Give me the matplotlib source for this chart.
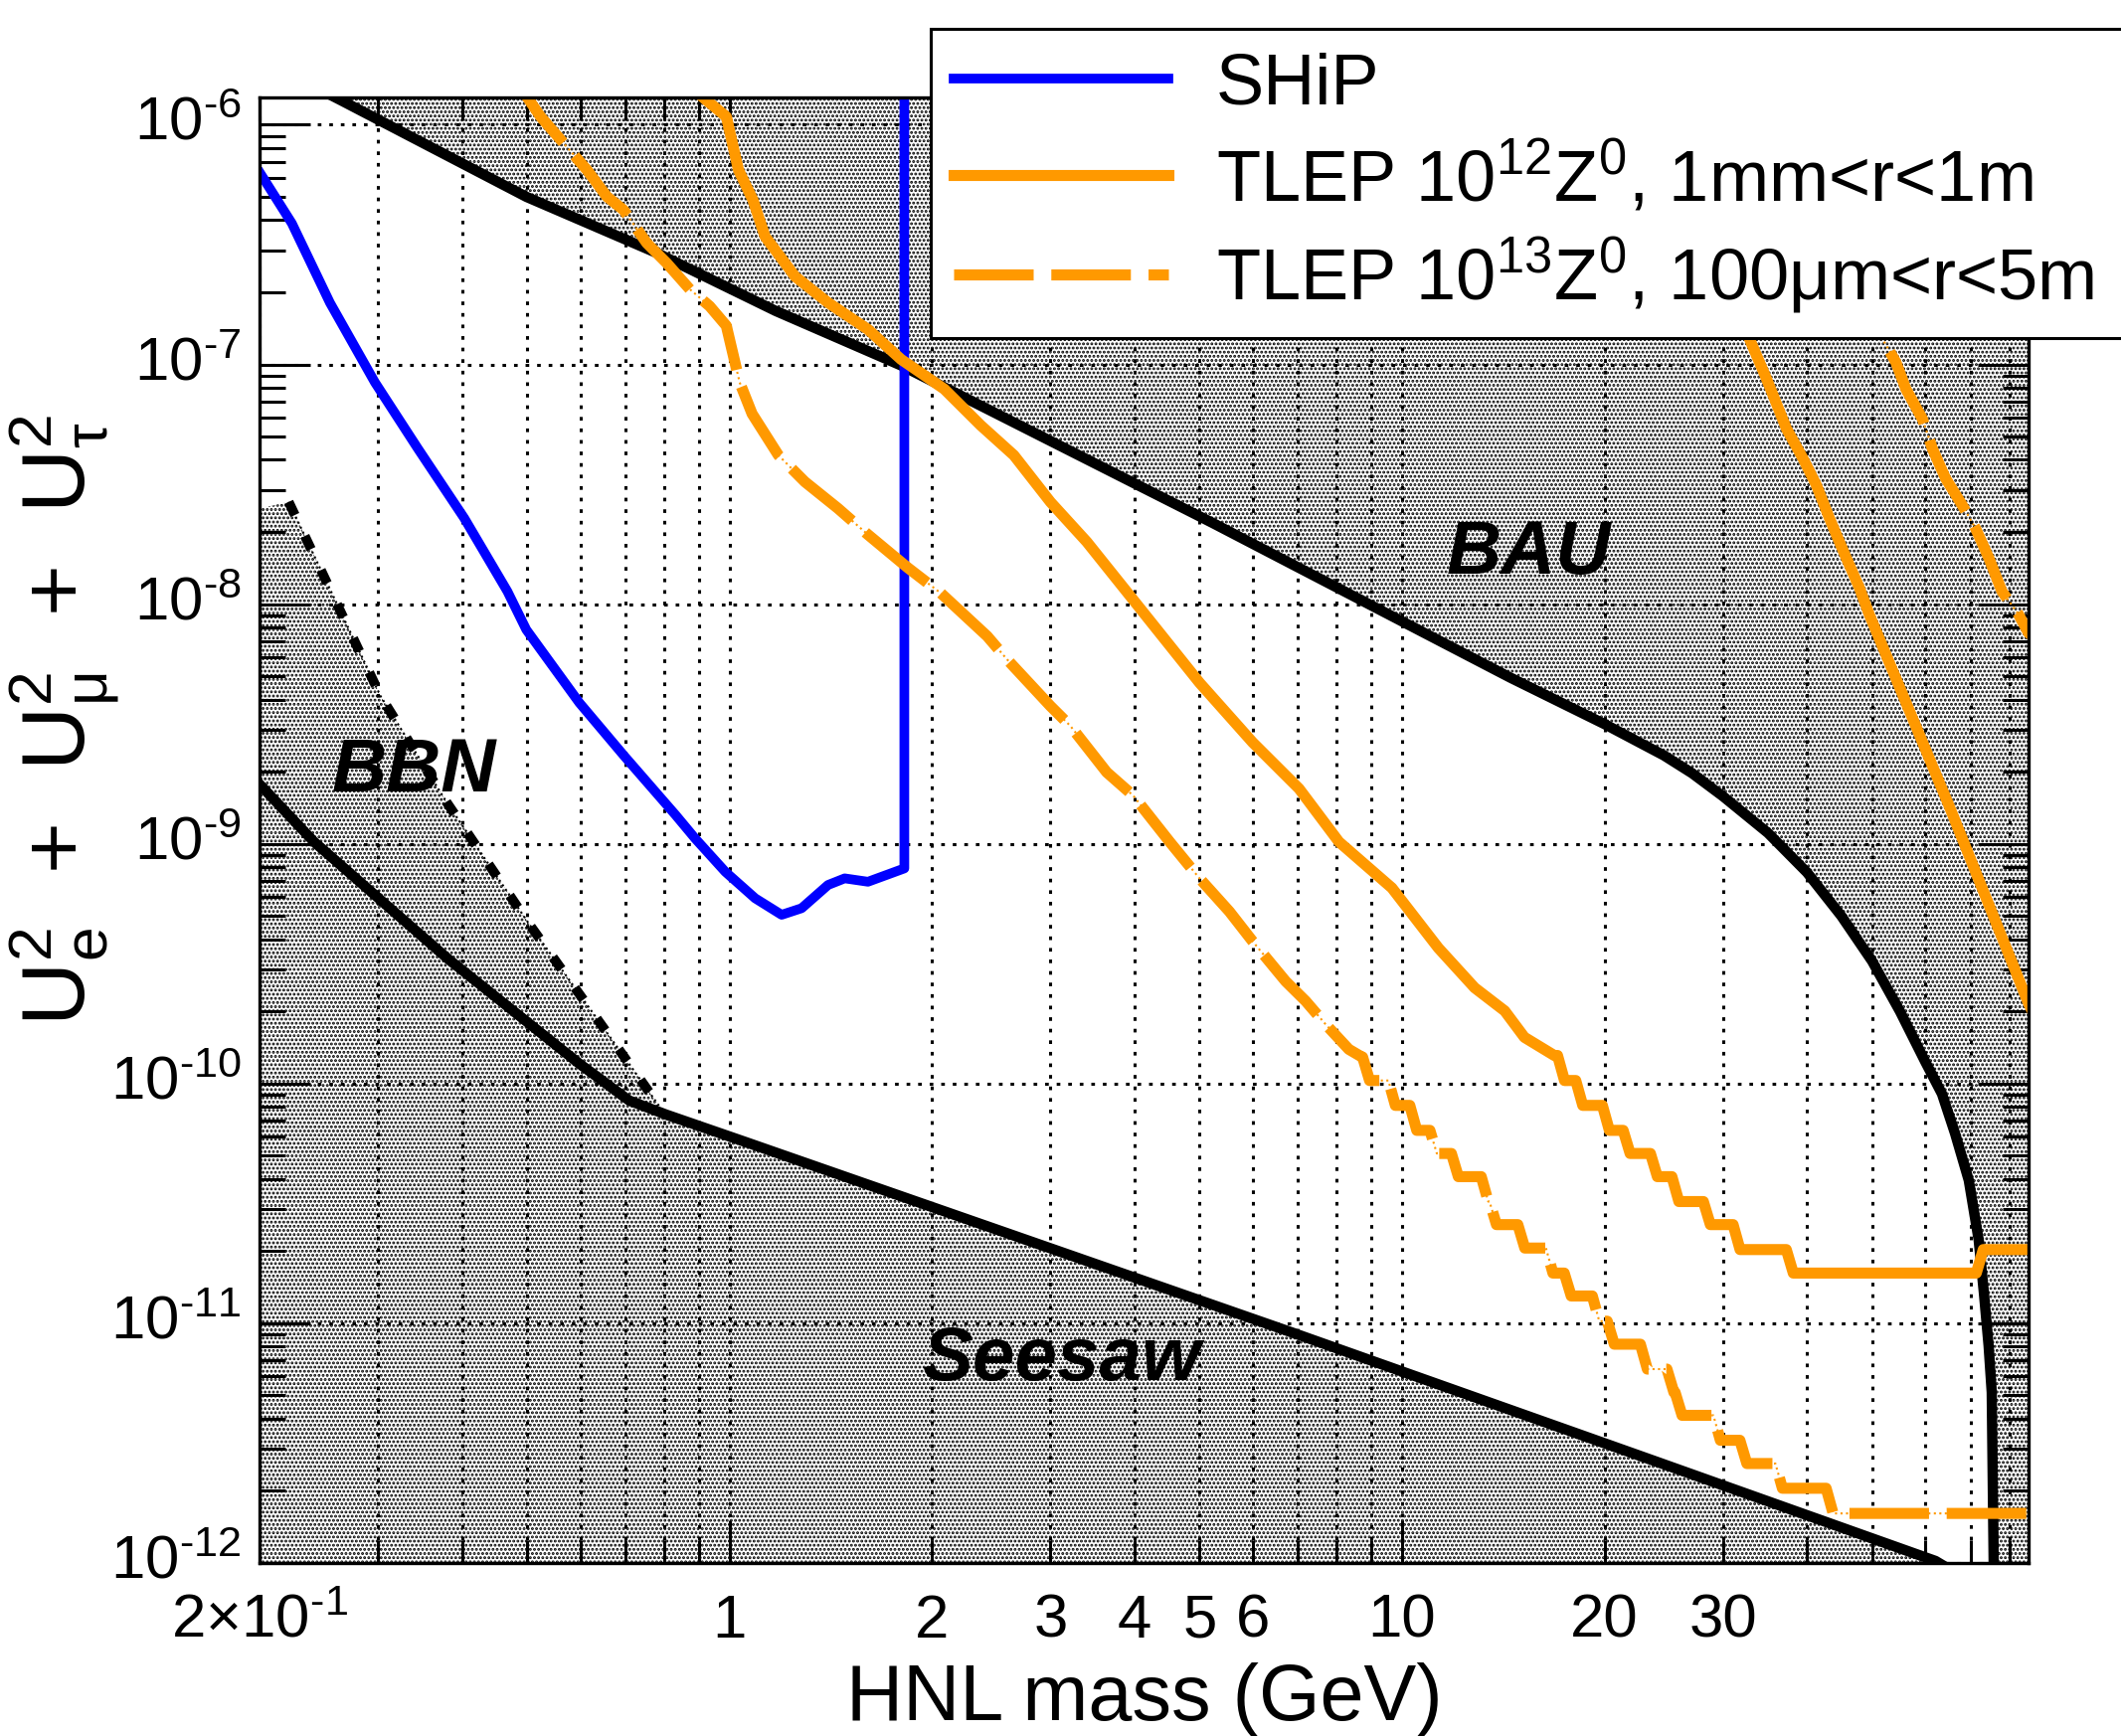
import numpy as np
import matplotlib
matplotlib.use("Agg")
import matplotlib.pyplot as plt
from matplotlib.ticker import FixedLocator, FixedFormatter, LogLocator, NullFormatter

plt.rcParams['font.family'] = ['Liberation Sans', 'DejaVu Sans']
plt.rcParams['mathtext.fontset'] = 'custom'
plt.rcParams['mathtext.rm'] = 'Liberation Sans'
plt.rcParams['mathtext.it'] = 'Liberation Sans:italic'
plt.rcParams['mathtext.bf'] = 'Liberation Sans:bold'
plt.rcParams['axes.unicode_minus'] = False
plt.rcParams['hatch.linewidth'] = 1.4

# ---- values: HNL mass (GeV) vs U_e^2+U_mu^2+U_tau^2 ----
# BAU upper bound
bau_m = [0.25, 0.265, 0.499, 0.779, 1.172, 1.8, 5.23, 14.5, 20, 24.5, 27, 30, 35, 40,
         45, 50, 55, 60, 63.5, 66.4, 69.6, 72.0, 73.3, 74.5, 75.3, 75.8, 76.0]
bau_u = [1.37e-6, 1.26e-6, 5.0e-7, 2.92e-7, 1.67e-7, 9.9e-8, 2.18e-8, 4.93e-9, 3.16e-9,
         2.34e-9, 1.97e-9, 1.58e-9, 1.11e-9, 7.6e-10, 5.0e-10, 3.24e-10, 2.0e-10,
         1.23e-10, 9.06e-11, 6.2e-11, 3.95e-11, 2.23e-11, 1.34e-11, 8.05e-12, 5.15e-12,
         1.0e-12, 5e-13]

# seesaw lower bound
seesaw_m = [0.199, 0.241, 0.380, 0.598, 0.709, 0.804, 1.055, 6.87, 23.95, 62.1, 64.0]
seesaw_u = [1.80e-9, 1.02e-9, 3.34e-10, 1.21e-10, 8.5e-11, 7.43e-11, 5.71e-11,
            9.14e-12, 2.64e-12, 1.02e-12, 9.7e-13]

# BBN bound (first point only closes the shaded area at the axis)
bbn_m = [0.199, 0.221, 0.3026, 0.3796, 0.5042, 0.6329, 0.794]
bbn_u = [2.5e-8, 2.67e-8, 4.14e-9, 1.49e-9, 4.6e-10, 1.89e-10, 7.73e-11]

# SHiP sensitivity
ship_m = [0.2006, 0.2234, 0.2545, 0.2969, 0.3439, 0.4033, 0.4674, 0.4985, 0.5978,
          0.6968, 0.8311, 0.8896, 0.9854, 1.0914, 1.195, 1.2797, 1.401, 1.483, 1.606,
          1.819, 1.819]
ship_u = [6.26e-7, 3.88e-7, 1.81e-7, 8.42e-8, 4.46e-8, 2.28e-8, 1.13e-8, 7.83e-9,
          3.88e-9, 2.33e-9, 1.32e-9, 1.05e-9, 7.65e-10, 5.93e-10, 5.06e-10, 5.39e-10,
          6.74e-10, 7.18e-10, 6.95e-10, 7.9e-10, 2e-6]

# TLEP 10^12 Z0, lower branch (smooth part) + staircase
tlep12_m = [0.88, 0.913, 0.989, 1.031, 1.083, 1.129, 1.251, 1.401, 1.606, 1.799, 2.085,
            2.363, 2.647, 2.999, 3.397, 3.892, 4.998, 5.995, 7.026, 8.054, 9.656,
            11.32, 12.82, 14.21, 15.2, 16.84]
tlep12_u = [1.42e-6, 1.30e-6, 1.08e-6, 6.47e-7, 4.86e-7, 3.42e-7, 2.33e-7, 1.81e-7,
            1.40e-7, 1.05e-7, 7.9e-8, 5.57e-8, 4.18e-8, 2.67e-8, 1.82e-8, 1.13e-8,
            4.7e-9, 2.65e-9, 1.70e-9, 1.02e-9, 6.55e-10, 3.68e-10, 2.51e-10, 2.01e-10,
            1.56e-10, 1.31e-10]
tlep12_edges = [17.23, 18.34, 20.09, 21.57, 23.68, 25.49, 28.39, 31.43, 37.71, 72.27]
tlep12_levels = [1.31e-10, 1.03e-10, 8.11e-11, 6.38e-11, 5.11e-11, 4.09e-11, 3.22e-11,
                 2.58e-11, 2.03e-11, 1.62e-11, 2.03e-11]
# upper branch (right side)
tlep12r_m = [23.0, 32.73, 34.83, 37.29, 39.46, 41.3, 43.2, 45.75, 47.86, 49.5, 65.0, 85.4, 90.0]
tlep12r_u = [1.3e-6, 1.31e-7, 8.7e-8, 5.39e-8, 4.05e-8, 3.14e-8, 2.28e-8, 1.56e-8,
             1.17e-8, 9.06e-9, 1.45e-9, 2.16e-10, 1.6e-10]

# TLEP 10^13 Z0, lower branch + staircase
tlep13_m = [0.48, 0.5003, 0.5236, 0.6138, 0.6572, 0.6956, 0.7531, 0.8060, 0.8726,
            0.9341, 0.9888, 1.035, 1.080, 1.182, 1.294, 1.449, 1.606, 1.840, 2.062,
            2.416, 2.586, 2.999, 3.210, 3.637, 3.983, 4.512, 4.998, 5.536, 5.995,
            6.713, 7.187, 7.692, 8.332, 8.718]
tlep13_u = [1.55e-6, 1.30e-6, 1.08e-6, 6.47e-7, 5.01e-7, 4.41e-7, 3.21e-7, 2.65e-7,
            2.06e-7, 1.75e-7, 1.45e-7, 8.42e-8, 6.23e-8, 4.18e-8, 3.24e-8, 2.51e-8,
            1.95e-8, 1.42e-8, 1.11e-8, 7.35e-9, 5.88e-9, 3.76e-9, 3.11e-9, 1.99e-9,
            1.59e-9, 1.02e-9, 7.18e-10, 5.22e-10, 3.92e-10, 2.67e-10, 2.21e-10,
            1.77e-10, 1.39e-10, 1.29e-10]
tlep13_edges = [8.84, 9.656, 10.39, 11.13, 11.98, 13.27, 13.65, 15.04, 16.56, 17.63,
                19.41, 20.43, 22.88, 25.06, 25.77, 29.38, 32.17, 36.33, 43.22]
tlep13_levels = [1.29e-10, 1.03e-10, 8.11e-11, 6.38e-11, 5.11e-11, 4.09e-11, 3.22e-11,
                 2.58e-11, 2.06e-11, 1.62e-11, 1.30e-11, 1.02e-11, 8.18e-12, 6.44e-12,
                 5.15e-12, 4.13e-12, 3.25e-12, 2.60e-12, 2.05e-12, 1.61e-12]
tlep13r_m = [32.6, 51.54, 54.25, 56.12, 59.38, 61.44, 64.31, 68.05, 71.24, 74.53,
             77.98, 82.53, 85.4, 90.0]
tlep13r_u = [1.3e-6, 1.31e-7, 1.02e-7, 7.9e-8, 5.93e-8, 4.46e-8, 3.34e-8, 2.59e-8,
             2.07e-8, 1.56e-8, 1.13e-8, 9.06e-9, 7.58e-9, 6.7e-9]

# region labels (position in data coords)
regions = ["BAU", "BBN", "Seesaw"]
region_m = [15.4, 0.339, 3.11]
region_u = [1.61e-8, 1.99e-9, 7.0e-12]

xtick_vals = [0.2, 0.3, 0.4, 0.5, 0.6, 0.7, 0.8, 0.9, 2, 3, 4, 5, 6, 7, 8, 9,
              20, 30, 40, 50, 60, 70, 80]
xtick_text = [r'$\mathdefault{2\text{×}10^{\text{-}1}}$', '', '', '', '', '', '', '',
              '2', '3', '4', '5', '6', '', '', '', '20', '30', '', '', '', '', '']
ytick_vals = [1e-12, 1e-11, 1e-10, 1e-9, 1e-8, 1e-7, 1e-6]
ytick_text = [r'$\mathdefault{10^{\text{-}%d}}$' % k for k in (12, 11, 10, 9, 8, 7, 6)]

ORANGE = '#ff9900'


def stairs(m_smooth, u_smooth, edges, levels, m_end):
    # staircase tail: slanted drop at each bin edge
    m = list(m_smooth)
    u = list(u_smooth)
    for e, lo, hi in zip(edges, levels[:-1], levels[1:]):
        m += [e / 1.012, e * 1.012]
        u += [lo, hi]
    m.append(m_end)
    u.append(levels[-1])
    return m, u


t12_m, t12_u = stairs(tlep12_m, tlep12_u, tlep12_edges, tlep12_levels, 90)
t13_m, t13_u = stairs(tlep13_m, tlep13_u, tlep13_edges, tlep13_levels, 90)

fig = plt.figure(figsize=(21.33, 17.46), dpi=100)
ax = fig.add_axes([261 / 2133, 1 - 1572 / 1746, 1779 / 2133, 1474 / 1746])
ax.set_xscale('log')
ax.set_yscale('log')
ax.set_xlim(0.2, 85.4)
ax.set_ylim(1e-12, 1.3e-6)

# shaded excluded regions
hatch_kw = dict(facecolor='none', edgecolor='black', hatch='....', linewidth=0, zorder=1)
ax.fill_between(seesaw_m, seesaw_u, 1e-13, **hatch_kw)
ax.fill(bbn_m + seesaw_m[4::-1], bbn_u + seesaw_u[4::-1], **hatch_kw)
ax.fill(bau_m + [100, 100, bau_m[0]], bau_u + [1e-13, 1e-5, 1e-5], **hatch_kw)

# bounds
ax.plot(bau_m, bau_u, color='black', lw=7.5, zorder=3)
ax.plot(seesaw_m, seesaw_u, color='black', lw=7.5, zorder=3)
ax.plot(bbn_m[1:], bbn_u[1:], color='black', lw=1.5, ls=':', zorder=3)
ax.plot(bbn_m[1:], bbn_u[1:], color='black', lw=7, dashes=(1.5, 2.4), zorder=3)

# sensitivity curves
ship_line, = ax.plot(ship_m, ship_u, color='blue', lw=7, zorder=4, label='SHiP')
t12_line, = ax.plot(t12_m, t12_u, color=ORANGE, lw=8, zorder=4,
                    label=r'TLEP 10$^{12}$Z$^{0}$, 1mm<r<1m')
ax.plot(tlep12r_m, tlep12r_u, color=ORANGE, lw=8, zorder=4)
ax.plot(t13_m, t13_u, color=ORANGE, lw=1.5, ls=':', zorder=4)
t13_line, = ax.plot(t13_m, t13_u, color=ORANGE, lw=8, dashes=(7.2, 1.6), zorder=4,
                    label=r'TLEP 10$^{13}$Z$^{0}$, 100μm<r<5m')
ax.plot(tlep13r_m, tlep13r_u, color=ORANGE, lw=1.5, ls=':', zorder=4)
ax.plot(tlep13r_m, tlep13r_u, color=ORANGE, lw=8, dashes=(7.2, 1.6), zorder=4)

for name, xm, yu in zip(regions, region_m, region_u):
    ax.text(xm, yu, name, fontsize=55, fontweight='bold', fontstyle='italic',
            ha='center', va='center', zorder=0.8)

# axes styling (ROOT look)
ax.xaxis.set_major_locator(FixedLocator([1, 10]))
ax.xaxis.set_major_formatter(FixedFormatter(['1', '10']))
ax.xaxis.set_minor_locator(FixedLocator(xtick_vals))
ax.xaxis.set_minor_formatter(FixedFormatter(xtick_text))
ax.yaxis.set_major_locator(FixedLocator(ytick_vals))
ax.yaxis.set_major_formatter(FixedFormatter(ytick_text))
ax.yaxis.set_minor_locator(LogLocator(base=10, subs=np.arange(2, 10), numticks=20))
ax.yaxis.set_minor_formatter(NullFormatter())

ax.tick_params(which='both', direction='in', top=True, right=True, width=2.2,
               labelsize=44.5, color='black')
ax.tick_params(axis='x', which='major', length=31, pad=53.8)
ax.tick_params(axis='x', which='minor', length=16.5, pad=53.8)
ax.tick_params(axis='y', which='major', length=37, pad=13)
ax.tick_params(axis='y', which='minor', length=18.7, pad=13)
for t in ax.get_xticklabels(which='both'):
    t.set_va('baseline')
for t in ax.get_yticklabels():
    t.set_va('center')

grid_kw = dict(color='black', lw=2.2, ls=(0, (1.2, 2.6)))
ax.grid(True, which='both', axis='x', **grid_kw)
ax.grid(True, which='major', axis='y', **grid_kw)
ax.set_axisbelow(True)
for sp in ax.spines.values():
    sp.set_linewidth(2.4)
    sp.set_zorder(5)

ax.set_xlabel('HNL mass (GeV)', fontsize=57)
ax.xaxis.set_label_coords(0.5, -0.068)
ax.set_ylabel(r'$\mathregular{U_{e}^{2}\enspace+\enspace U_{\mu}^{2}\enspace+\enspace U_{\tau}^{2}}$',
              fontsize=64)
ax.yaxis.set_label_coords(-0.078, 0.575)

leg = ax.legend(handles=[ship_line, t12_line, t13_line], loc='upper left',
                bbox_to_anchor=(936 / 2133, 1 - 29 / 1746, 0.58, 0),
                bbox_transform=fig.transFigure, mode='expand', borderaxespad=0,
                borderpad=0.32, labelspacing=0.28, handlelength=2.99,
                handletextpad=0.66, fontsize=52, fancybox=False, framealpha=1,
                edgecolor='black')
leg.get_frame().set_linewidth(2.2)
leg.set_zorder(10)

fig.savefig('out.png', dpi=100)
